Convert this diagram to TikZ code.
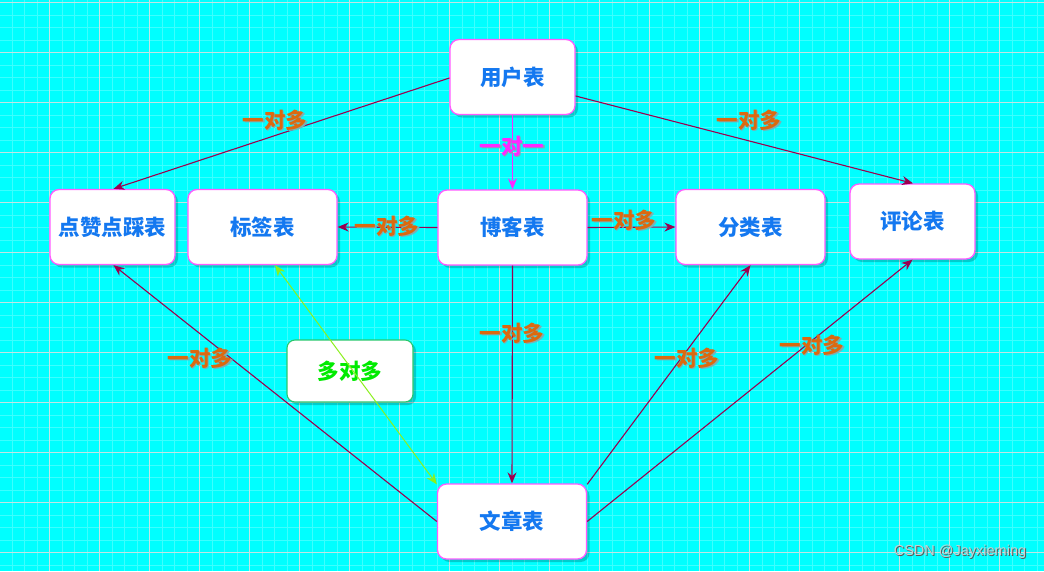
\documentclass[tikz,border=0pt]{standalone}
\usepackage{fontspec}
\newfontfamily\cjk{Noto Sans CJK SC}
\newfontfamily\wmfont{Liberation Sans}
\usetikzlibrary{arrows.meta,shadows}
\definecolor{bgcyan}{RGB}{0,255,255}
\definecolor{minorg}{RGB}{60,255,255}
\definecolor{majorg}{RGB}{195,228,228}
\definecolor{boxborder}{RGB}{255,90,255}
\definecolor{boxtext}{RGB}{20,120,240}
\definecolor{edgec}{RGB}{155,0,80}
\definecolor{onetoone}{RGB}{255,40,255}
\definecolor{lblc}{RGB}{220,105,15}
\definecolor{txtshadow}{RGB}{125,175,180}
\definecolor{greenedge}{RGB}{140,240,30}
\definecolor{greentext}{RGB}{0,235,0}
\definecolor{greenborder}{RGB}{40,200,110}
\definecolor{wmc}{RGB}{195,210,210}
\newcommand{\shtxt}[2]{\leavevmode\rlap{\hspace{1.5pt}\raisebox{-1.5pt}{\textcolor{txtshadow}{#2}}}\textcolor{#1}{#2}}
\tikzset{
  tbl/.style={draw=boxborder, line width=1.3pt, fill=white, rounded corners=9pt,
    minimum width=#1, minimum height=75pt, inner sep=0pt,
    font=\cjk\bfseries\fontsize{21.5}{25}\selectfont, text=boxtext,
    drop shadow={shadow xshift=3pt, shadow yshift=-3pt, fill=black, opacity=0.2}},
  tbl/.default=150pt,
  rel/.style={draw=edgec, line width=1.1pt, -{Stealth[length=11pt,width=9pt]}},
  lbl/.style={font=\cjk\bfseries\fontsize{21.5}{25}\selectfont, inner sep=0pt},
  minorline/.style={draw=minorg, line width=0.5pt},
  majorline/.style={draw=majorg, line width=0.9pt},
}
\begin{document}
\begin{tikzpicture}[x=1pt,y=-1pt]
\useasboundingbox (0,0) rectangle (1044,571);
\fill[bgcyan] (0,0) rectangle (1044,571);
% grid
\foreach \i in {0,...,84} {
  \pgfmathsetmacro{\xx}{-0.5+12.5*\i}
  \draw[minorline] (\xx,0) -- (\xx,571);
}
\foreach \i in {0,...,46} {
  \pgfmathsetmacro{\yy}{2.5+12.5*\i}
  \draw[minorline] (0,\yy) -- (1044,\yy);
}
\foreach \i in {0,...,21} {
  \pgfmathsetmacro{\xx}{-0.5+50*\i}
  \draw[majorline] (\xx,0) -- (\xx,571);
}
\foreach \i in {0,...,11} {
  \pgfmathsetmacro{\yy}{2.5+50*\i}
  \draw[majorline] (0,\yy) -- (1044,\yy);
}
% nodes
\node[tbl=125pt] (yh) at (512.5,77) {用户表};
\node[tbl=125pt] (dz) at (112.5,227) {点赞点踩表};
\node[tbl=149pt] (bq) at (262.5,227) {标签表};
\node[tbl=149pt] (bk) at (512.5,227.5) {博客表};
\node[tbl=149pt] (fl) at (750.5,227) {分类表};
\node[tbl=125pt] (pl) at (912.5,221.5) {评论表};
\node[tbl=149pt] (wz) at (512,521.5) {文章表};
\node[draw=greenborder, line width=1.1pt, fill=white, rounded corners=8pt,
      minimum width=126pt, minimum height=62pt, inner sep=0pt,
      font=\cjk\bfseries\fontsize{21.5}{25}\selectfont, text=greentext,
      drop shadow={shadow xshift=3pt, shadow yshift=-3pt, fill=black, opacity=0.2}]
      (dd) at (350,371) {多对多};
% edges
\draw[rel] ([yshift=-1pt]yh.west) -- ([xshift=1pt]dz.north);
\draw[rel] ([yshift=-19pt]yh.east) -- ([xshift=0.5pt]pl.north);
\draw[rel, draw=onetoone] (yh.south) -- (bk.north);
\draw[rel] (bk.west) -- (bq.east);
\draw[rel] (bk.east) -- (fl.east -| fl.west);
\draw[rel] (bk.south) -- (wz.north);
\draw[rel] (wz.west) -- ([xshift=1pt]dz.south);
\draw[rel] ([yshift=-1pt]wz.north east) -- (fl.south);
\draw[rel] (wz.east) -- ([yshift=0pt]pl.south);
\draw[draw=greenedge, line width=1pt, {Stealth[length=11pt,width=9pt]}-{Stealth[length=11pt,width=9pt]}]
  ([xshift=12.5pt]bq.south) -- ([yshift=-1pt]wz.north west);
% labels
\node[lbl] (l1) at (275,121) {\shtxt{lblc}{一对多}};
\node[lbl] (l2) at (749,121) {\shtxt{lblc}{一对多}};
\node[lbl] (l3) at (512,147) {\shtxt{onetoone}{一对一}};
\node[lbl] (l4) at (387,227) {\shtxt{lblc}{一对多}};
\node[lbl] (l5) at (624,221) {\shtxt{lblc}{一对多}};
\node[lbl] (l6) at (512,334) {\shtxt{lblc}{一对多}};
\node[lbl] (l7) at (200,359) {\shtxt{lblc}{一对多}};
\node[lbl] (l8) at (687,359) {\shtxt{lblc}{一对多}};
\node[lbl] (l9) at (812,346) {\shtxt{lblc}{一对多}};
\node[font=\wmfont\fontsize{14.5}{16}\selectfont, inner sep=0pt] (wm) at (960,552)
  {\leavevmode\rlap{\hspace{1pt}\raisebox{-1pt}{\textcolor{gray!70!black}{CSDN @Jayxieming}}}\textcolor{wmc}{CSDN @Jayxieming}};
\end{tikzpicture}
\end{document}
